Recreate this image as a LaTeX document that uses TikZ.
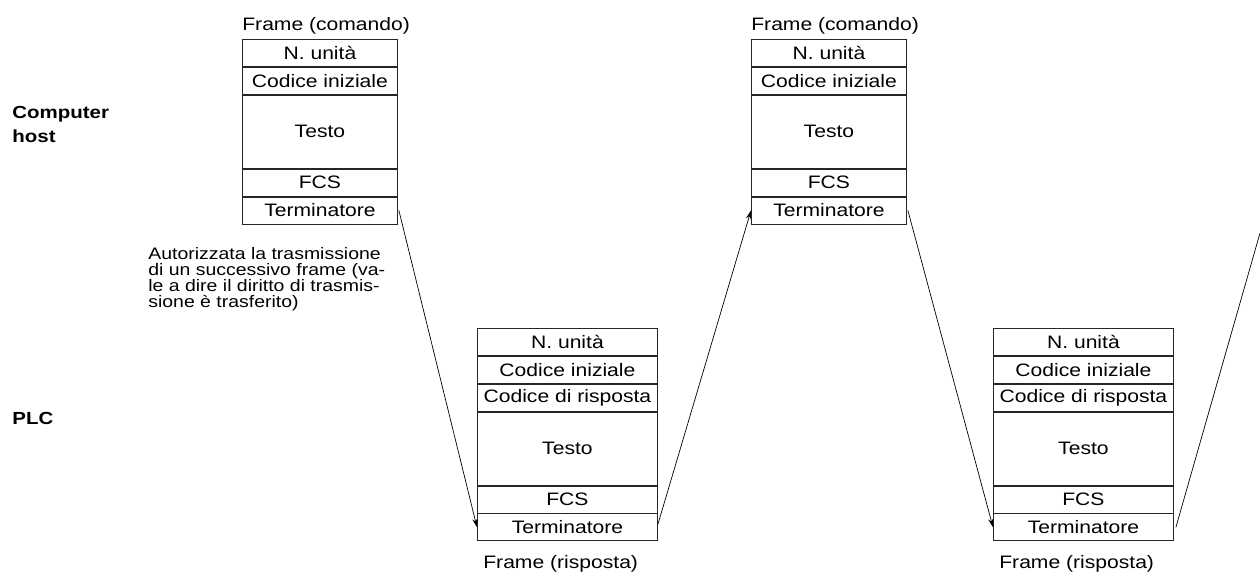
\documentclass[tikz,border=0pt]{standalone}
\usepackage{fontspec}
\setmainfont{Liberation Sans}[FakeStretch=1.17]
\usepackage{tikz}
\usetikzlibrary{positioning, arrows.meta}
\newcommand{\pxu}{0.5714pt}
\tikzstyle{cell} = [rectangle, draw=black!85, line width=0.5pt, inner sep=0pt, text centered, minimum height=27*\pxu, font=\fontsize{10.3}{12}\selectfont]
\tikzstyle{cmdcell} = [cell, minimum width=155*\pxu]
\tikzstyle{respcell} = [cell, minimum width=180*\pxu]
\tikzstyle{title} = [inner sep=0pt, anchor=base west, font=\fontsize{10.3}{12}\selectfont]
\tikzstyle{side} = [inner sep=0pt, anchor=base west, align=left, font=\fontsize{10}{13.5}\selectfont\bfseries]
\tikzstyle{arrow} = [line width=0.4pt, -{Stealth[length=5pt,width=3pt]}]

\begin{document}
\begin{tikzpicture}[x=\pxu, y=-\pxu]
	\useasboundingbox (0,0) rectangle (1260,571);
	% who sends
	\node[side] (host) at (12,142) {Computer\\host};
	\node[side] (plc) at (12,424) {PLC};
	\node[inner sep=0pt, anchor=base west, align=left, font=\fontsize{9.5}{9}\selectfont] (note) at (148,307)
		{Autorizzata la trasmissione\\di un successivo frame (va-\\le a dire il diritto di trasmis-\\sione è trasferito)};

	% first command frame
	\node[cmdcell, anchor=north west] (cmdA-unit) at (242,39) {N. unità};
	\node[cmdcell, below=0pt of cmdA-unit] (cmdA-start) {Codice iniziale};
	\node[cmdcell, below=0pt of cmdA-start, minimum height=73*\pxu] (cmdA-text) {Testo};
	\node[cmdcell, below=0pt of cmdA-text] (cmdA-fcs) {FCS};
	\node[cmdcell, below=0pt of cmdA-fcs] (cmdA-term) {Terminatore};
	\node[title] (cmdA-title) at (242,30) {Frame (comando)};

	% first response frame
	\node[respcell, anchor=north west] (respA-unit) at (477,328) {N. unità};
	\node[respcell, below=0pt of respA-unit] (respA-start) {Codice iniziale};
	\node[respcell, below=0pt of respA-start] (respA-code) {Codice di risposta};
	\node[respcell, below=0pt of respA-code, minimum height=73*\pxu] (respA-text) {Testo};
	\node[respcell, below=0pt of respA-text] (respA-fcs) {FCS};
	\node[respcell, below=0pt of respA-fcs] (respA-term) {Terminatore};
	\node[title] (respA-title) at (483,568) {Frame (risposta)};

	% second command frame
	\node[cmdcell, anchor=north west] (cmdB-unit) at (751,39) {N. unità};
	\node[cmdcell, below=0pt of cmdB-unit] (cmdB-start) {Codice iniziale};
	\node[cmdcell, below=0pt of cmdB-start, minimum height=73*\pxu] (cmdB-text) {Testo};
	\node[cmdcell, below=0pt of cmdB-text] (cmdB-fcs) {FCS};
	\node[cmdcell, below=0pt of cmdB-fcs] (cmdB-term) {Terminatore};
	\node[title] (cmdB-title) at (751,30) {Frame (comando)};

	% second response frame
	\node[respcell, anchor=north west] (respB-unit) at (993,328) {N. unità};
	\node[respcell, below=0pt of respB-unit] (respB-start) {Codice iniziale};
	\node[respcell, below=0pt of respB-start] (respB-code) {Codice di risposta};
	\node[respcell, below=0pt of respB-code, minimum height=73*\pxu] (respB-text) {Testo};
	\node[respcell, below=0pt of respB-text] (respB-fcs) {FCS};
	\node[respcell, below=0pt of respB-fcs] (respB-term) {Terminatore};
	\node[title] (respB-title) at (999,568) {Frame (risposta)};

	% hand-over of the right to transmit
	\coordinate (next) at (1260,233);
	\draw[arrow] ([xshift=1*\pxu]cmdA-term.east) -- (respA-term.west);
	\draw[arrow] ([yshift=3*\pxu]respA-term.east) -- (cmdB-term.west);
	\draw[arrow] ([xshift=1*\pxu]cmdB-term.east) -- (respB-term.west);
	\draw[line width=0.4pt] ([xshift=2*\pxu]respB-term.east) -- (next);
\end{tikzpicture}
\end{document}
